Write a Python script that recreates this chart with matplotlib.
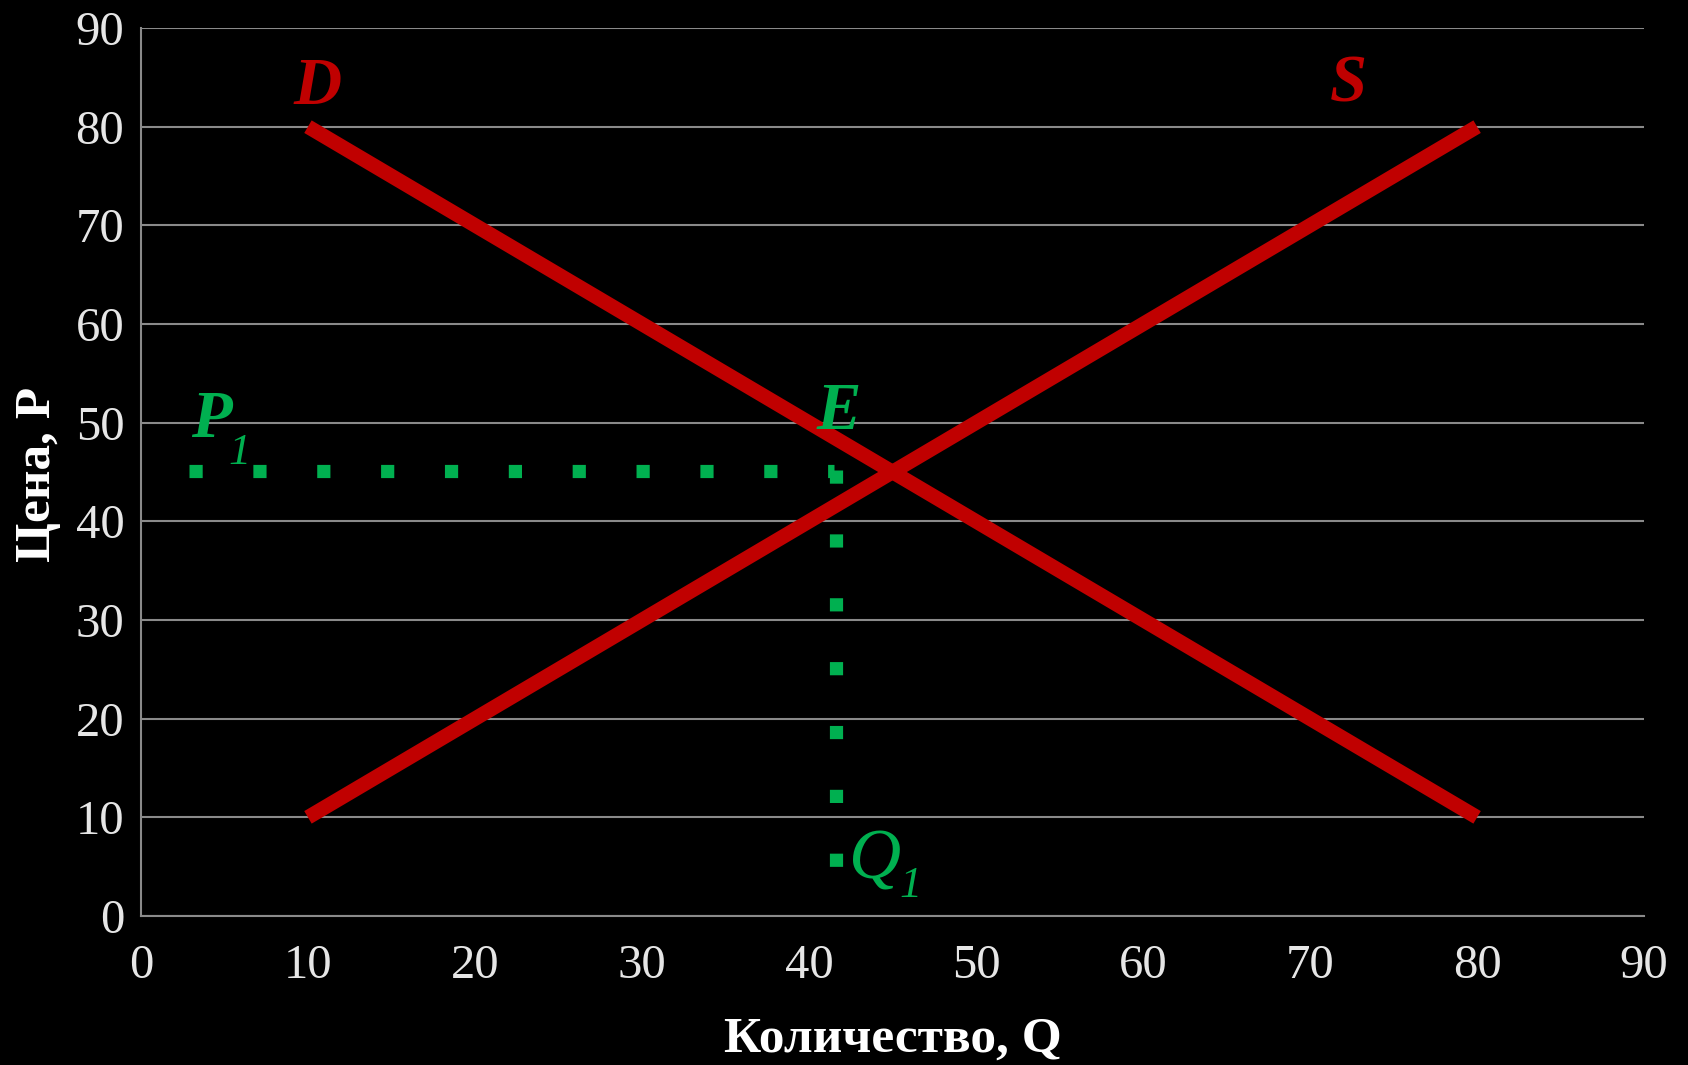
import matplotlib.pyplot as plt

plt.rcParams['font.family'] = ['Liberation Serif', 'DejaVu Serif']

# data
demand_q = [10, 80]
demand_p = [80, 10]
supply_q = [10, 80]
supply_p = [10, 80]

p1_q = [2.9, 41.5]
p1_p = [45.1, 45.1]
q1_q = [41.6, 41.6]
q1_p = [45.2, 4.9]

ticks = [0, 10, 20, 30, 40, 50, 60, 70, 80, 90]

RED = "#c00000"
GREEN = "#00b050"
GRID = "#8a8a8a"

fig = plt.figure(figsize=(16.88, 10.65), dpi=100, facecolor="black")
ax = fig.add_axes([0.0835, 0.1399, 0.8905, 0.8338], facecolor="black")

ax.set_xlim(0, 90)
ax.set_ylim(0, 90)
ax.set_xticks(ticks)
ax.set_yticks(ticks)
ax.grid(axis="y", color=GRID, linewidth=1.5, zorder=0)
ax.set_axisbelow(True)

for side in ["top", "right"]:
    ax.spines[side].set_visible(False)
for side in ["left", "bottom"]:
    ax.spines[side].set_color(GRID)
    ax.spines[side].set_linewidth(1.5)

ax.tick_params(length=0, colors="#e6e6e6", labelsize=35)
ax.tick_params(axis="x", pad=20)
ax.tick_params(axis="y", pad=12)

ax.plot(demand_q, demand_p, color=RED, lw=10.5, solid_capstyle="butt", zorder=3)
ax.plot(supply_q, supply_p, color=RED, lw=10.5, solid_capstyle="butt", zorder=3)

ax.plot(p1_q, p1_p, color=GREEN, lw=9.5, dashes=(1, 3.84), dash_capstyle="butt", zorder=4)
ax.plot(q1_q, q1_p, color=GREEN, lw=9.5, dashes=(1, 3.84), dash_capstyle="butt", zorder=4)

lab = dict(fontsize=48, fontweight="bold", fontstyle="italic", ha="center", va="center")
ax.text(10.6, 84.0, "D", color=RED, **lab)
ax.text(72.3, 84.2, "S", color=RED, **lab)
ax.text(41.8, 51.0, "E", color=GREEN, **lab)
ax.text(4.2, 50.2, "P", color=GREEN, **lab)
ax.text(5.9, 46.9, "1", color=GREEN, fontsize=32, fontstyle="italic", ha="center", va="center")
ax.text(43.9, 5.6, "Q", color=GREEN, fontsize=52, fontstyle="italic", ha="center", va="center")
ax.text(46.1, 3.0, "1", color=GREEN, fontsize=32, fontstyle="italic", ha="center", va="center")

fig.text(0.529, 0.024, "Количество, Q", color="white", fontsize=37, fontweight="bold",
         ha="center", va="center")
fig.text(0.0225, 0.555, "Цена, P", color="white", fontsize=37, fontweight="bold",
         rotation=90, ha="center", va="center")

plt.savefig("out.png", dpi=100, facecolor="black")
plt.close()
